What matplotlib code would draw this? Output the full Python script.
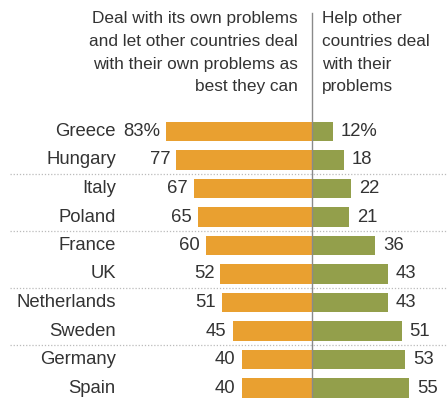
import matplotlib.pyplot as plt

countries = ["Greece", "Hungary", "Italy", "Poland", "France", "UK",
             "Netherlands", "Sweden", "Germany", "Spain"]
own_problems = [83, 77, 67, 65, 60, 52, 51, 45, 40, 40]
help_others = [12, 18, 22, 21, 36, 43, 43, 51, 53, 55]
group_breaks = [1.5, 3.5, 5.5, 7.5]

header_left = "Deal with its own problems\nand let other countries deal\nwith their own problems as\nbest they can"
header_right = "Help other\ncountries deal\nwith their\nproblems"

orange = "#E9A030"
green = "#939F4B"
text_col = "#333333"

plt.rcParams['font.family'] = ['Liberation Sans', 'DejaVu Sans']

W, H = 447, 398
fig = plt.figure(figsize=(W / 100, H / 100), dpi=100)
ax = fig.add_axes([0, 0, 1, 1])

# pixel layout: zero line at x=312, 1.76 px per point, rows 28.5 px apart
px_per = 1.76
x0 = 312
ax.set_xlim(-x0 / px_per, (W - x0) / px_per)
ax.set_ylim((H - 131.5) / 28.5, -131.5 / 28.5)
ax.axis("off")

rows = list(range(len(countries)))
ax.barh(rows, [-v for v in own_problems], height=0.7, color=orange, zorder=2)
ax.barh(rows, help_others, height=0.7, color=green, zorder=2)

fs = 13.3
for i, c in enumerate(countries):
    ax.text(-111.5, i, c, ha="right", va="center", fontsize=fs, color=text_col)
    suf = "%" if i == 0 else ""
    ax.text(-own_problems[i] - 3.5, i, f"{own_problems[i]}{suf}", ha="right",
            va="center", fontsize=fs, color=text_col)
    ax.text(help_others[i] + 4.5, i, f"{help_others[i]}{suf}", ha="left",
            va="center", fontsize=fs, color=text_col)

for b in group_breaks:
    ax.plot([-(x0 - 10) / px_per, (W - x0) / px_per], [b, b], color="#bbbbbb",
            lw=0.9, ls=(0, (1, 1.5)), zorder=1)

ax.plot([0, 0], [(13 - 131.5) / 28.5, (H - 131.5) / 28.5], color="#8a8a8a",
        lw=1, zorder=3)

ax.text(-8, (11 - 131.5) / 28.5, header_left, ha="right", va="top",
        fontsize=12.4, color=text_col, linespacing=1.65)
ax.text(5.7, (11 - 131.5) / 28.5, header_right, ha="left", va="top",
        fontsize=12.4, color=text_col, linespacing=1.65)

fig.savefig("out.png", dpi=100)
